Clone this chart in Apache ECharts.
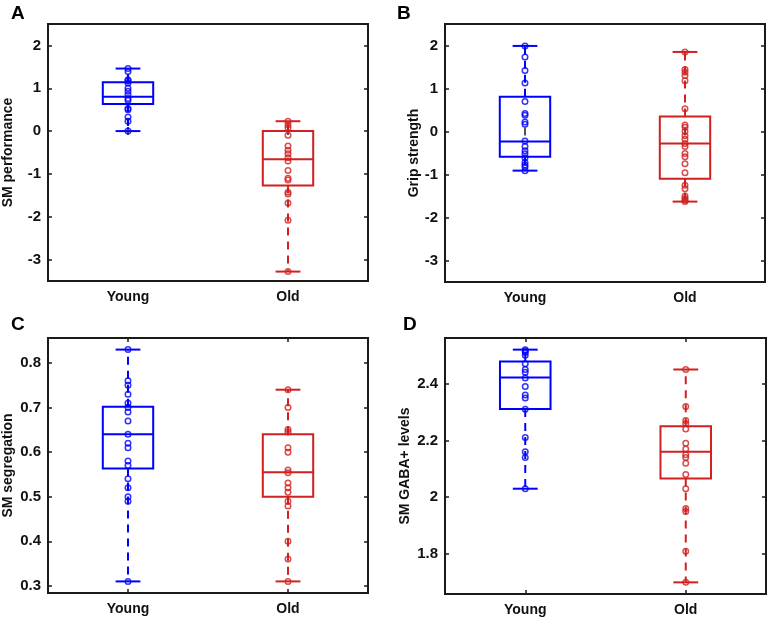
<!DOCTYPE html>
<html>
<head>
<meta charset="utf-8">
<script src="https://cdn.jsdelivr.net/npm/echarts@6/dist/echarts.min.js"></script>
<style>
html,body{margin:0;padding:0;background:#fff;}
#chart{width:773px;height:619px;}
</style>
</head>
<body>
<div id="chart"></div>
<script>
// ---- data ----
const categories = ['Young', 'Old'];
const panelLetters = ['A', 'B', 'C', 'D'];
const yNames = ['SM performance', 'Grip strength', 'SM segregation', 'SM GABA+ levels'];

// box stats: [lower whisker, Q1, median, Q3, upper whisker]
const youngA_box = [0.00, 0.63, 0.80, 1.14, 1.46];
const oldA_box = [-3.28, -1.27, -0.66, 0.00, 0.23];
const youngB_box = [-0.91, -0.59, -0.23, 0.81, 1.99];
const oldB_box = [-1.63, -1.10, -0.28, 0.35, 1.85];
const youngC_box = [0.31, 0.563, 0.64, 0.702, 0.83];
const oldC_box = [0.31, 0.50, 0.555, 0.64, 0.74];
const youngD_box = [2.03, 2.311, 2.422, 2.478, 2.52];
const oldD_box = [1.70, 2.066, 2.16, 2.25, 2.45];

// individual points
const youngA_pts = [1.46, 1.39, 1.20, 1.17, 1.12, 1.00, 0.93, 0.85, 0.76, 0.72, 0.53, 0.50, 0.33, 0.23, 0.00];
const oldA_pts = [0.23, 0.15, 0.08, -0.10, -0.35, -0.45, -0.53, -0.62, -0.70, -0.92, -1.10, -1.14, -1.43, -1.47, -1.68, -2.08, -3.28];
const youngB_pts = [1.99, 1.73, 1.42, 1.13, 0.70, 0.42, 0.38, 0.22, 0.17, -0.22, -0.35, -0.45, -0.52, -0.61, -0.72, -0.78, -0.83, -0.91];
const oldB_pts = [1.85, 1.44, 1.38, 1.30, 1.18, 0.53, 0.15, 0.10, 0.00, -0.10, -0.18, -0.28, -0.35, -0.51, -0.59, -0.75, -0.96, -1.25, -1.33, -1.50, -1.56, -1.60, -1.63];
const youngC_pts = [0.83, 0.76, 0.75, 0.73, 0.71, 0.70, 0.69, 0.67, 0.64, 0.62, 0.61, 0.58, 0.57, 0.54, 0.52, 0.50, 0.49, 0.31];
const oldC_pts = [0.74, 0.70, 0.651, 0.645, 0.61, 0.60, 0.56, 0.554, 0.531, 0.52, 0.51, 0.49, 0.479, 0.40, 0.36, 0.31];
const youngD_pts = [2.52, 2.515, 2.51, 2.50, 2.47, 2.45, 2.44, 2.42, 2.39, 2.36, 2.35, 2.31, 2.21, 2.16, 2.14, 2.03];
const oldD_pts = [2.45, 2.32, 2.27, 2.26, 2.24, 2.19, 2.17, 2.15, 2.14, 2.12, 2.08, 2.03, 1.96, 1.95, 1.81, 1.70];

// axis ranges and tick labels
const yRanges = [[-3.5, 2.5], [-3.5, 2.5], [0.284, 0.856], [1.659, 2.561]];
const yTicksAB = [-3, -2, -1, 0, 1, 2];
const yTicksC = [0.3, 0.4, 0.5, 0.6, 0.7, 0.8];
const yTicksD = [1.8, 2, 2.2, 2.4];
const yTicks = [yTicksAB, yTicksAB, yTicksC, yTicksD];

const boxes = [[youngA_box, oldA_box], [youngB_box, oldB_box], [youngC_box, oldC_box], [youngD_box, oldD_box]];
const points = [[youngA_pts, oldA_pts], [youngB_pts, oldB_pts], [youngC_pts, oldC_pts], [youngD_pts, oldD_pts]];

// ---- style / layout ----
const COLORS = ['#0000ff', '#d02020'];
const FONT = '"Liberation Sans", Arial, Helvetica, sans-serif';
const grids = [
  {left: 45, top: 24, width: 323, height: 257},
  {left: 445, top: 24, width: 320, height: 258},
  {left: 45, top: 338, width: 323, height: 255},
  {left: 445, top: 338, width: 321, height: 256}
];
const nameGaps = [33, 21, 33, 33];
const letterPos = [[11, 4], [397, 4], [11, 315], [403, 315]];

function renderBox(params, api) {
  const c = api.value(0);
  const lo = api.coord([c, api.value(1)]);
  const q1 = api.coord([c, api.value(2)]);
  const md = api.coord([c, api.value(3)]);
  const q3 = api.coord([c, api.value(4)]);
  const hi = api.coord([c, api.value(5)]);
  const band = api.size([1, 0])[0];
  const bw = band * 0.315, cw = band * 0.155;
  const x = lo[0];
  const color = COLORS[c];
  const solid = {stroke: color, lineWidth: 2, fill: null};
  const dashed = {stroke: color, lineWidth: 2, lineDash: [8, 6], fill: null};
  return {
    type: 'group',
    children: [
      {type: 'line', shape: {x1: x, y1: q3[1], x2: x, y2: hi[1]}, style: dashed},
      {type: 'line', shape: {x1: x, y1: q1[1], x2: x, y2: lo[1]}, style: dashed},
      {type: 'line', shape: {x1: x - cw / 2, y1: hi[1], x2: x + cw / 2, y2: hi[1]}, style: solid},
      {type: 'line', shape: {x1: x - cw / 2, y1: lo[1], x2: x + cw / 2, y2: lo[1]}, style: solid},
      {type: 'rect', shape: {x: x - bw / 2, y: q3[1], width: bw, height: q1[1] - q3[1]}, style: {stroke: color, lineWidth: 2, fill: 'transparent'}},
      {type: 'line', shape: {x1: x - bw / 2, y1: md[1], x2: x + bw / 2, y2: md[1]}, style: solid}
    ]
  };
}

const option = {
  animation: false,
  backgroundColor: '#fff',
  textStyle: {fontFamily: FONT},
  grid: grids.map(g => Object.assign({show: true, borderColor: '#1a1a1a', borderWidth: 2, backgroundColor: 'transparent'}, g)),
  xAxis: [],
  yAxis: [],
  series: [],
  graphic: panelLetters.map((t, i) => ({
    type: 'text', left: letterPos[i][0], top: letterPos[i][1],
    style: {text: t, font: 'bold 19px ' + FONT, fill: '#000'}
  }))
};

for (let g = 0; g < 4; g++) {
  option.xAxis.push({
    gridIndex: g, type: 'category', data: categories, position: 'bottom', boundaryGap: true,
    axisLine: {show: false},
    axisTick: {show: true, inside: true, alignWithLabel: true, length: 4, lineStyle: {color: '#1a1a1a', width: 1.5}},
    axisLabel: {color: '#111', fontWeight: 'bold', fontSize: 14, fontFamily: FONT, margin: 9},
    splitLine: {show: false}
  });
  option.xAxis.push({
    gridIndex: g, type: 'category', data: categories, position: 'top', boundaryGap: true,
    axisLine: {show: false},
    axisTick: {show: true, inside: true, alignWithLabel: true, length: 4, lineStyle: {color: '#1a1a1a', width: 1.5}},
    axisLabel: {show: false}, splitLine: {show: false}
  });
  option.yAxis.push({
    gridIndex: g, type: 'value', position: 'left', min: yRanges[g][0], max: yRanges[g][1],
    name: yNames[g], nameLocation: 'middle', nameGap: nameGaps[g], nameRotate: 90,
    nameTextStyle: {color: '#111', fontWeight: 'bold', fontSize: 14, fontFamily: FONT},
    axisLine: {show: false},
    axisTick: {show: true, inside: true, length: 4, customValues: yTicks[g], lineStyle: {color: '#1a1a1a', width: 1.5}},
    axisLabel: {color: '#111', fontWeight: 'bold', fontSize: 15, fontFamily: FONT, margin: 7, customValues: yTicks[g]},
    splitLine: {show: false}
  });
  option.yAxis.push({
    gridIndex: g, type: 'value', position: 'right', min: yRanges[g][0], max: yRanges[g][1],
    axisLine: {show: false},
    axisTick: {show: true, inside: true, length: 4, customValues: yTicks[g], lineStyle: {color: '#1a1a1a', width: 1.5}},
    axisLabel: {show: false, customValues: yTicks[g]},
    splitLine: {show: false}
  });

  option.series.push({
    type: 'custom', xAxisIndex: 2 * g, yAxisIndex: 2 * g,
    renderItem: renderBox, z: 3,
    encode: {x: 0, y: [1, 2, 3, 4, 5]},
    data: [[0].concat(boxes[g][0]), [1].concat(boxes[g][1])]
  });
  for (let c = 0; c < 2; c++) {
    option.series.push({
      type: 'scatter', xAxisIndex: 2 * g, yAxisIndex: 2 * g, z: 4,
      symbol: 'circle', symbolSize: 5.5,
      itemStyle: {color: 'transparent', borderColor: COLORS[c], borderWidth: 1.5},
      data: points[g][c].map(v => [c, v])
    });
  }
}

const chart = echarts.init(document.getElementById('chart'), null, {renderer: 'canvas'});
chart.setOption(option);
</script>
</body>
</html>
